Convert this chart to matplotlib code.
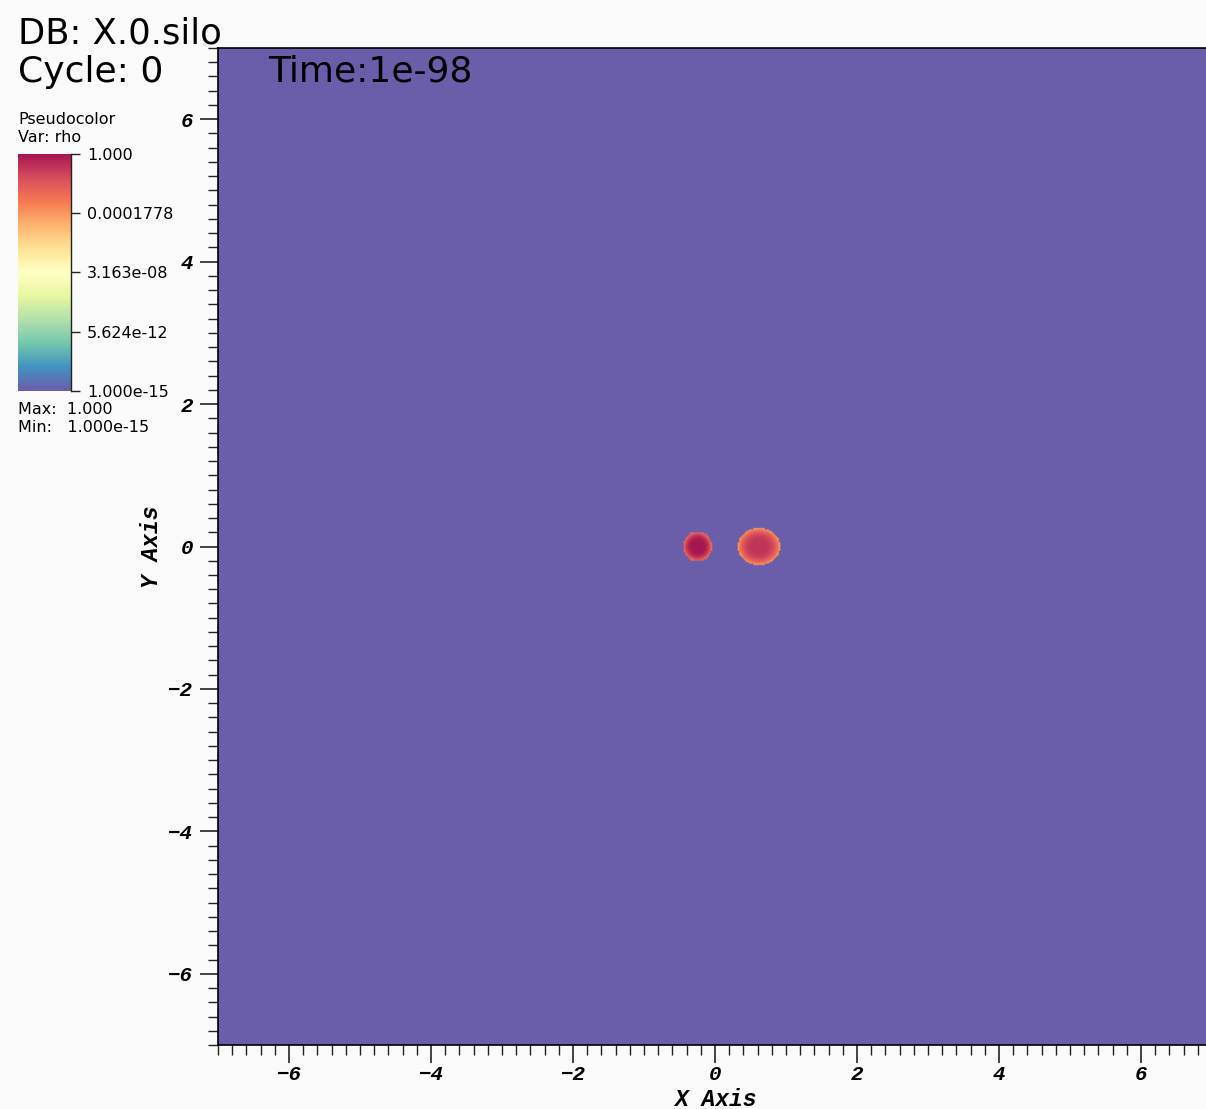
import numpy as np
import matplotlib
matplotlib.use("Agg")
import matplotlib.pyplot as plt
from matplotlib.colors import LogNorm, LinearSegmentedColormap
from matplotlib.ticker import MultipleLocator

# blobs in the rho field (centre, radii, centre value, rim value)
blob_x = [-0.245, 0.62]
blob_y = [0.0, 0.0]
blob_rx = [0.205, 0.30]
blob_ry = [0.21, 0.26]
blob_peak = [1.0, 0.15]
blob_edge = [1e-3, 1e-4]
rho_min = 1e-15
rho_max = 1.0

cbar_ticks = [1.0, 1.778e-4, 3.163e-8, 5.624e-12, 1e-15]
cbar_labels = ["1.000", "0.0001778", "3.163e-08", "5.624e-12", "1.000e-15"]
axis_ticks = [-6, -4, -2, 0, 2, 4, 6]

# density grid
n = 700
xs = np.linspace(-7, 7, n)
ys = np.linspace(-7, 7, n)
X, Y = np.meshgrid(xs, ys)
rho = np.full_like(X, rho_min)
for cx, cy, rx, ry, pk, ed in zip(blob_x, blob_y, blob_rx, blob_ry, blob_peak, blob_edge):
    r = np.sqrt(((X - cx) / rx) ** 2 + ((Y - cy) / ry) ** 2)
    inside = r <= 1
    logv = np.log10(pk) + (np.log10(ed) - np.log10(pk)) * r ** 4
    rho[inside] = 10 ** logv[inside]

# spectral table, slightly washed out
spectral = ["#5e4fa2", "#3288bd", "#66c2a5", "#abdda4", "#e6f598", "#ffffbf",
            "#fee08b", "#fdae61", "#f46d43", "#d53e4f", "#9e0142"]
rgb = np.array([matplotlib.colors.to_rgb(c) for c in spectral])
rgb = rgb * 0.92 + 0.08
cmap = LinearSegmentedColormap.from_list("spectral_v", rgb)

bg = "#fafafa"
fig = plt.figure(figsize=(12.06, 11.09), dpi=100, facecolor=bg)
W, H = 1206, 1109

ax = fig.add_axes([218 / W, (H - 1045) / H, 994 / W, 997 / H])
norm = LogNorm(vmin=rho_min, vmax=rho_max)
im = ax.imshow(rho, extent=(-7, 7, -7, 7), origin="lower", cmap=cmap,
               norm=norm, interpolation="bilinear", aspect="auto")
ax.set_xlim(-7, 7)
ax.set_ylim(-7, 7)

tick_font = dict(family="Liberation Mono", weight="bold", style="italic", size=15)
ax.set_xticks(axis_ticks)
ax.set_yticks(axis_ticks)
ax.xaxis.set_minor_locator(MultipleLocator(0.2))
ax.yaxis.set_minor_locator(MultipleLocator(0.2))
ax.set_xticklabels([str(t).replace("-", "\u2212") for t in axis_ticks], fontdict=tick_font)
ax.set_yticklabels([str(t).replace("-", "\u2212") for t in axis_ticks], fontdict=tick_font)
ax.tick_params(which="major", direction="out", length=13, width=1.2, color="#222222")
ax.tick_params(axis="x", which="major", pad=1.5)
ax.tick_params(axis="y", which="major", pad=5)
ax.tick_params(which="minor", direction="out", length=7, width=1.0, color="#222222")
ax.tick_params(top=False, right=False, which="both")
for s in ax.spines.values():
    s.set_linewidth(1.2)
ax.set_xlabel("X Axis", fontdict=dict(tick_font, size=16.5))
ax.set_ylabel("Y Axis", fontdict=dict(tick_font, size=16.5))
ax.xaxis.set_label_coords(715 / W, 1 - 1099 / H, transform=fig.transFigure)
ax.yaxis.set_label_coords(152 / W, 1 - 547 / H, transform=fig.transFigure)
ax.xaxis.label.set_va("center")
ax.yaxis.label.set_va("center")

fig.text(268 / W, 1 - 82 / H, "Time:1e-98", family="DejaVu Sans", size=26,
         va="baseline", ha="left")

# colour bar legend
cax = fig.add_axes([18 / W, (H - 391) / H, 53 / W, 237 / H])
cb = fig.colorbar(im, cax=cax, ticks=cbar_ticks)
cb.outline.set_visible(False)
cb.set_ticklabels(cbar_labels)
cax.minorticks_off()
cax.tick_params(length=6.5, width=1.0, color="#222222", pad=5, labelsize=11.5)
for lab in cax.get_yticklabels():
    lab.set_family("DejaVu Sans")
cax.plot([1, 1], [0, 1], transform=cax.transAxes, clip_on=False, color="#222222", lw=1)

fig.text(18 / W, 1 - 43 / H, "DB: X.0.silo", family="DejaVu Sans", size=25.5, va="baseline", ha="left")
fig.text(18 / W, 1 - 82 / H, "Cycle: 0", family="DejaVu Sans", size=26, va="baseline", ha="left")
small = dict(family="DejaVu Sans", size=11.5, va="center", ha="left")
fig.text(18 / W, 1 - 120 / H, "Pseudocolor", **small)
fig.text(18 / W, 1 - 138 / H, "Var: rho", **small)
fig.text(18 / W, 1 - 409 / H, "Max:  1.000", **small)
fig.text(18 / W, 1 - 427 / H, "Min:   1.000e-15", **small)

fig.savefig("out.png", dpi=100, facecolor=bg)
